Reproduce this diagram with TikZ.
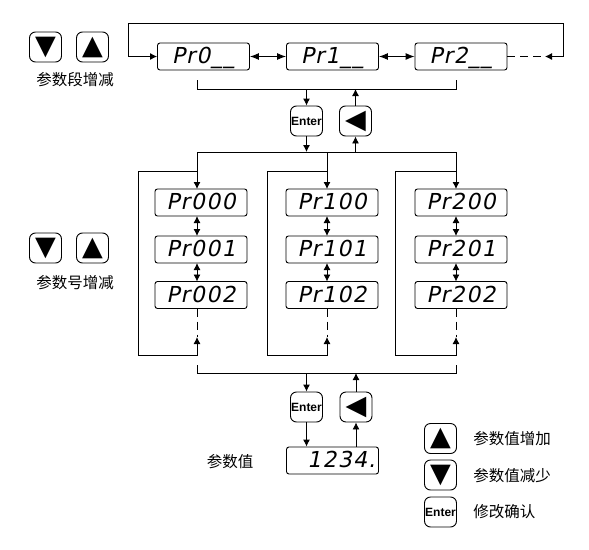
\documentclass[tikz,border=0pt]{standalone}
\usepackage{fontspec}
\usetikzlibrary{arrows.meta}
\newfontfamily\cjk{Noto Sans CJK SC}
\newfontfamily\lcdfont{DejaVu Sans}[FakeSlant=0.2,LetterSpace=6]
\newfontfamily\symfont{DejaVu Sans}
\newfontfamily\keyfont{Liberation Sans}

\begin{document}
\begin{tikzpicture}[x=1pt,y=-1pt,line width=0.9pt,>={Latex[length=7pt,width=7pt]},
  lcd/.style={draw,rounded corners=2.5pt,minimum width=92pt,minimum height=27pt,inner sep=0pt,
    text height=16pt,text depth=2pt,font=\lcdfont\fontsize{22}{22}\selectfont},
  key/.style={draw,rounded corners=6pt,minimum width=32pt,minimum height=30pt,inner sep=0pt},
  sym/.style={key,font=\symfont\fontsize{27}{27}\selectfont},
  enter/.style={key,font=\keyfont\bfseries\fontsize{12}{12}\selectfont},
  label/.style={font=\cjk\fontsize{15.5}{15.5}\selectfont,inner sep=0pt}]
\useasboundingbox (0,0) rectangle (589,549);

% left keys and labels
\node[sym] at (45.5,47)   (dn1) {▼};
\node[sym] at (92.5,47)   (up1) {▲};
\node[label] at (75,80)   (lab1) {参数段增减};
\node[sym] at (45.5,248)  (dn2) {▼};
\node[sym] at (92.5,248)  (up2) {▲};
\node[label] at (75,283)  (lab2) {参数号增减};

% parameter groups
\node[lcd] at (203.5,56.5) (p0) {Pr0\_\_};
\node[lcd] at (332.5,56.5) (p1) {Pr1\_\_};
\node[lcd] at (461,56.5)   (p2) {Pr2\_\_};

\draw[<->,>={Latex[length=9pt,width=7pt]}] (p0) -- (p1);
\draw[<->,>={Latex[length=9pt,width=7pt]}] (p1) -- (p2);
\coordinate (r0) at (128,56.5);
\coordinate (r1) at (563,56.5);
\coordinate (r2) at (545,56.5);
\draw[->] (r1) -- (563,23) -- (128,23) -- (r0) -- (p0);
\draw[->] (r1) -- (r2);
\draw[dashed,dash pattern=on 8pt off 5pt] (p2) -- (r2);

% first bracket and keys
\coordinate (u1) at (197,80);
\coordinate (u2) at (456,80);
\draw (u1) -- ++(0,9) -| (u2);
\coordinate (bar1) at (0,89);
\coordinate (bar2) at (0,152);
\node[enter] at (306.5,121) (ent1) {Enter};
\node[sym] at (355.5,121)   (bk1) {◀};
\draw[->] (ent1 |- bar1) -- (ent1);
\draw[->] (ent1) -- (ent1 |- bar2);
\draw[->] (bk1 |- bar2) -- (bk1);
\draw[->] (bk1) -- (bk1 |- bar1);
\draw (197,152) -- (456,152);

% parameter numbers
\node[lcd] at (201,202.5) (p000) {Pr000};
\node[lcd] at (201,249.5) (p001) {Pr001};
\node[lcd] at (201,295)   (p002) {Pr002};
\node[lcd] at (332,202.5) (p100) {Pr100};
\node[lcd] at (332,249.5) (p101) {Pr101};
\node[lcd] at (332,295)   (p102) {Pr102};
\node[lcd] at (461,202.5) (p200) {Pr200};
\node[lcd] at (461,249.5) (p201) {Pr201};
\node[lcd] at (461,295)   (p202) {Pr202};

\draw[->] (197,152) -- (197,189);
\draw[->] (327,152) -- (327,189);
\draw[->] (456,152) -- (456,189);
\draw[<->] (197,216) -- (197,236);
\draw[<->] (197,263) -- (197,281.5);
\draw[<->] (327,216) -- (327,236);
\draw[<->] (327,263) -- (327,281.5);
\draw[<->] (456,216) -- (456,236);
\draw[<->] (456,263) -- (456,281.5);

\coordinate (e0) at (197,337);
\coordinate (e1) at (327,337);
\coordinate (e2) at (456,337);
\draw[dashed,dash pattern=on 8pt off 5pt] (197,308.5) -- (e0);
\draw[dashed,dash pattern=on 8pt off 5pt] (327,308.5) -- (e1);
\draw[dashed,dash pattern=on 8pt off 5pt] (456,308.5) -- (e2);
\draw[->] (197,171) -- (138,171) -- (138,355) -- (197,355) -- (e0);
\draw[->] (327,171) -- (267,171) -- (267,355) -- (327,355) -- (e1);
\draw[->] (456,171) -- (395,171) -- (395,355) -- (456,355) -- (e2);

% second bracket and keys
\coordinate (w1) at (197,365);
\coordinate (w2) at (456,365);
\draw (w1) -- ++(0,8) -| (w2);
\coordinate (bar3) at (0,373);
\node[enter] at (306.5,407) (ent2) {Enter};
\node[sym] at (356,407)     (bk2) {◀};
\node[lcd,text width=86pt,align=right] at (332.5,460.5) (val) {1234.};
\node[label] at (230,462) (lab3) {参数值};
\draw[->] (ent2 |- bar3) -- (ent2);
\draw[->] (ent2) -- (ent2 |- val.north);
\draw[->] (bk2 |- val.north) -- (bk2);
\draw[->] (bk2) -- (bk2 |- bar3);

% legend
\node[sym] at (440.5,438.5) (kup) {▲};
\node[sym] at (440.5,475)   (kdn) {▼};
\node[enter] at (440.5,512) (kent) {Enter};
\node[label,anchor=west] at (473,439) (t1) {参数值增加};
\node[label,anchor=west] at (473,476) (t2) {参数值减少};
\node[label,anchor=west] at (473,512) (t3) {修改确认};
\end{tikzpicture}
\end{document}
